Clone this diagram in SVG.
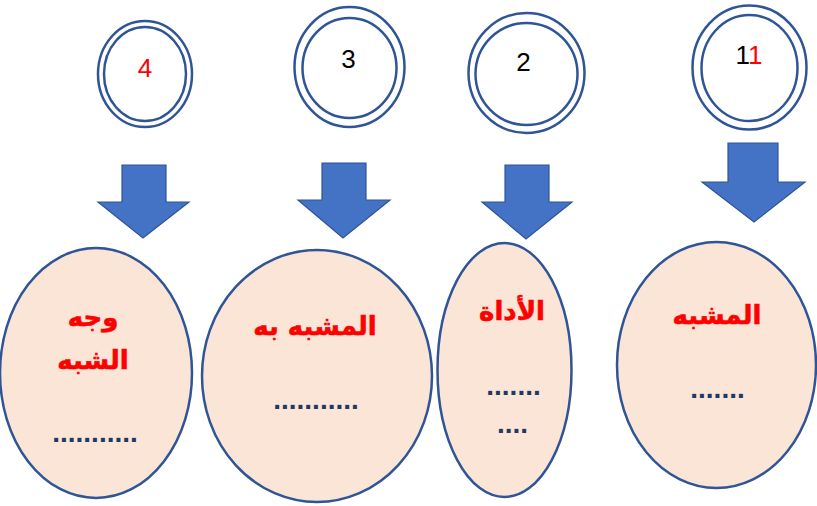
<svg xmlns="http://www.w3.org/2000/svg" width="817" height="506" viewBox="0 0 817 506">
<style>
.ring{fill:none;stroke:#2F5597;stroke-width:2.5}
.arrow{fill:#4472C4;stroke:#2F5597;stroke-width:1.2;stroke-linejoin:miter}
.oval{fill:#FBE5D6;stroke:#2F5597;stroke-width:2.5}
.num{font-family:"Liberation Sans",Arial,sans-serif;font-size:26px;text-anchor:middle}
.lbl{font-family:"DejaVu Sans","Noto Sans",sans-serif;font-weight:bold;font-size:26px;fill:#FF0000;stroke:#FF0000;stroke-width:0.6;text-anchor:middle}
.dots{font-family:"Liberation Sans",Arial,sans-serif;font-weight:bold;font-size:28px;fill:#1F3864;text-anchor:middle}
</style>
<rect width="817" height="506" fill="#FFFFFF"/>
<g id="circle4">
<ellipse class="ring" cx="145" cy="74" rx="47" ry="53"/>
<ellipse class="ring" cx="145" cy="74" rx="41" ry="47"/>
<text class="num" x="145" y="77" fill="#FF0000">4</text>
</g>
<g id="circle3">
<ellipse class="ring" cx="349.5" cy="67" rx="55" ry="60"/>
<ellipse class="ring" cx="349.5" cy="68" rx="47" ry="50"/>
<text class="num" x="348.5" y="68" fill="#000000">3</text>
</g>
<g id="circle2">
<ellipse class="ring" cx="526.5" cy="73" rx="58" ry="60"/>
<ellipse class="ring" cx="526.5" cy="74" rx="51" ry="51"/>
<text class="num" x="523.5" y="71" fill="#000000">2</text>
</g>
<g id="circle1">
<ellipse class="ring" cx="749.5" cy="67.5" rx="57" ry="62"/>
<ellipse class="ring" cx="749.5" cy="68" rx="48" ry="53"/>
<text class="num" x="749" y="64"><tspan fill="#000000">1</tspan><tspan fill="#FF0000">1</tspan></text>
</g>
<g id="connectors">
<polygon class="arrow" points="122,165 166,165 166,202 189,202 143,238 98,202 122,202"/>
<polygon class="arrow" points="322,163 366,163 366,200 390,200 343,238 298,200 322,200"/>
<polygon class="arrow" points="505,165 549,165 549,202 572,202 526,239 482,202 505,202"/>
<polygon class="arrow" points="728,143 778,143 778,182 805,182 754,222 702,182 728,182"/>
</g>
<g id="node4">
<ellipse class="oval" cx="96" cy="373" rx="96" ry="125"/>
<text class="lbl" x="93" y="326">وجه</text>
<text class="lbl" x="93" y="369">الشبه</text>
<text class="dots" x="95" y="442">...........</text>
</g>
<g id="node3">
<ellipse class="oval" cx="317" cy="376" rx="115" ry="126"/>
<text class="lbl" x="315" y="335">المشبه به</text>
<text class="dots" x="316" y="409">...........</text>
</g>
<g id="node2">
<ellipse class="oval" cx="504.5" cy="370" rx="67" ry="127"/>
<text class="lbl" x="512" y="320">الأداة</text>
<text class="dots" x="513.5" y="395">.......</text>
<text class="dots" x="512.5" y="433">....</text>
</g>
<g id="node1">
<ellipse class="oval" cx="716.5" cy="365" rx="99.5" ry="123"/>
<text class="lbl" x="717" y="324">المشبه</text>
<text class="dots" x="717.5" y="398">.......</text>
</g>
</svg>
